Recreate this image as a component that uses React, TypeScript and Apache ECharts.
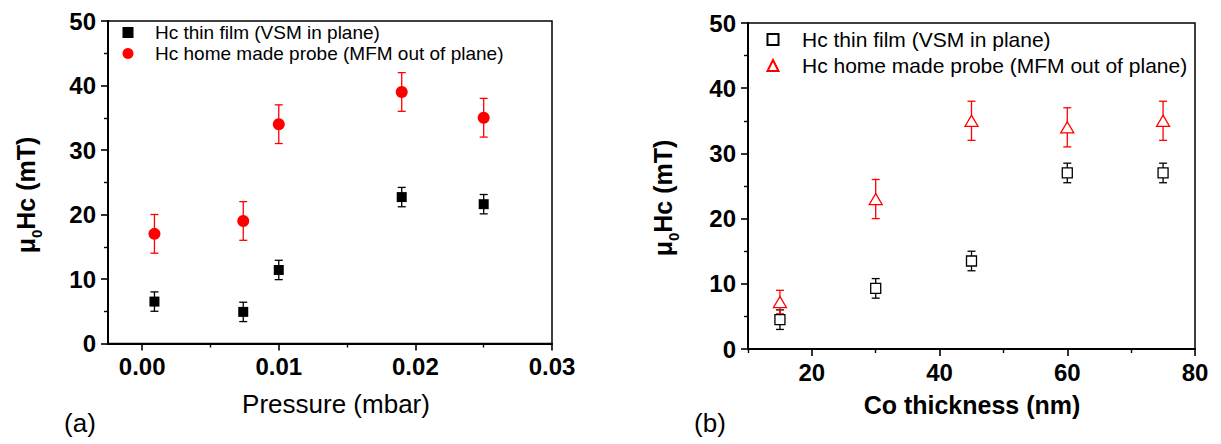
import React, { useEffect, useRef } from 'react';
import * as echarts from 'echarts';

// Panel (a): coercive field vs pressure
const pressure = [0.0009, 0.0074, 0.01, 0.019, 0.025];
const hcFilmA = [6.5, 4.9, 11.4, 22.7, 21.6];
const errFilmA = [1.5, 1.5, 1.5, 1.5, 1.5];
const hcProbeA = [17, 19, 34, 39, 35];
const errProbeA = [3, 3, 3, 3, 3];

// Panel (b): coercive field vs Co thickness
const thickness = [15, 30, 45, 60, 75];
const hcFilmB = [4.5, 9.3, 13.5, 27, 27];
const errFilmB = [1.5, 1.5, 1.5, 1.5, 1.5];
const hcProbeB = [7.2, 23, 35, 34, 35];
const errProbeB = [1.8, 3, 3, 3, 3];

// Tick values
const xTicksA = [0, 0.01, 0.02, 0.03];
const xMinorA = [0.005, 0.015, 0.025];
const xTicksB = [20, 40, 60, 80];
const xMinorB = [10, 30, 50, 70];

const filmName = 'Hc thin film (VSM in plane)';
const probeName = 'Hc home made probe (MFM out of plane)';

const FONT = '"Liberation Sans", Arial, sans-serif';

function errorSeries(name: string, xs: number[], ys: number[], errs: number[], color: string, xAxisIndex: number, yAxisIndex: number) {
  return {
    type: 'custom',
    name,
    xAxisIndex,
    yAxisIndex,
    z: 1,
    silent: true,
    data: xs.map((x, i) => [x, ys[i] - errs[i], ys[i] + errs[i]]),
    encode: { x: 0, y: [1, 2] },
    renderItem: (params: any, api: any) => {
      const x = api.value(0);
      const lo = api.coord([x, api.value(1)]);
      const hi = api.coord([x, api.value(2)]);
      const w = 4;
      const st = { stroke: color, lineWidth: 1.3, fill: 'none' };
      return {
        type: 'group',
        children: [
          { type: 'line', shape: { x1: lo[0], y1: lo[1], x2: hi[0], y2: hi[1] }, style: st },
          { type: 'line', shape: { x1: lo[0] - w, y1: lo[1], x2: lo[0] + w, y2: lo[1] }, style: st },
          { type: 'line', shape: { x1: hi[0] - w, y1: hi[1], x2: hi[0] + w, y2: hi[1] }, style: st },
        ],
      };
    },
  };
}

function mainX(gridIndex: number, min: number, max: number, ticks: number[], fmt: (v: number) => string) {
  return {
    type: 'value',
    gridIndex,
    min,
    max,
    position: 'bottom',
    axisLine: { show: true, onZero: false, lineStyle: { color: '#000', width: 2 } },
    axisTick: { show: true, length: 7, customValues: ticks, lineStyle: { color: '#000', width: 1.6 } },
    axisLabel: {
      show: true,
      customValues: ticks,
      margin: 11,
      formatter: fmt,
      fontFamily: FONT,
      fontWeight: 'bold',
      fontSize: 24,
      color: '#000',
    },
    splitLine: { show: false },
  };
}

function minorX(gridIndex: number, min: number, max: number, ticks: number[]) {
  return {
    type: 'value',
    gridIndex,
    min,
    max,
    position: 'bottom',
    axisLine: { show: false, onZero: false },
    axisTick: { show: true, length: 4, customValues: ticks, lineStyle: { color: '#000', width: 1.4 } },
    axisLabel: { show: false },
    splitLine: { show: false },
  };
}

function mainY(gridIndex: number) {
  return {
    type: 'value',
    gridIndex,
    min: 0,
    max: 50,
    interval: 10,
    axisLine: { show: true, onZero: false, lineStyle: { color: '#000', width: 2 } },
    axisTick: { show: true, length: 7, lineStyle: { color: '#000', width: 1.6 } },
    minorTick: { show: true, splitNumber: 2, length: 4, lineStyle: { color: '#000', width: 1.4 } },
    axisLabel: { margin: 12, fontFamily: FONT, fontWeight: 'bold', fontSize: 24, color: '#000' },
    splitLine: { show: false },
  };
}

function yTitle(x: number, y: number) {
  return {
    type: 'text',
    x,
    y,
    rotation: Math.PI / 2,
    style: {
      text: '{m|μ}{s|0}{m|Hc (mT)}',
      align: 'center',
      verticalAlign: 'middle',
      fill: '#000',
      rich: {
        m: { fontFamily: FONT, fontWeight: 'bold', fontSize: 25, lineHeight: 36, fill: '#000' },
        s: { fontFamily: FONT, fontWeight: 'bold', fontSize: 15, lineHeight: 9, verticalAlign: 'bottom', fill: '#000' },
      },
    },
  };
}

function plainText(text: string, x: number, y: number, size: number, weight: string) {
  return {
    type: 'text',
    x,
    y,
    style: { text, fontFamily: FONT, fontSize: size, fontWeight: weight, fill: '#000', align: 'center', verticalAlign: 'middle' },
  };
}

export default function App() {
  const ref = useRef<HTMLDivElement>(null);

  useEffect(() => {
    if (!ref.current) return;
    const chart = echarts.init(ref.current, undefined, { renderer: 'svg' });
    const option: any = {
      animation: false,
      backgroundColor: '#fff',
      grid: [
        { left: 108, top: 21, width: 444, height: 322.5, show: true, borderColor: '#000', borderWidth: 1.5, backgroundColor: 'transparent', outerBoundsMode: 'none', containLabel: false },
        { left: 748, top: 23, width: 447, height: 326, show: true, borderColor: '#000', borderWidth: 1.5, backgroundColor: 'transparent', outerBoundsMode: 'none', containLabel: false },
      ],
      xAxis: [
        mainX(0, -0.0025, 0.03, xTicksA, (v: number) => v.toFixed(2)),
        minorX(0, -0.0025, 0.03, xMinorA),
        mainX(1, 10, 80, xTicksB, (v: number) => String(v)),
        minorX(1, 10, 80, xMinorB),
      ],
      yAxis: [mainY(0), mainY(1)],
      legend: [
        {
          orient: 'vertical',
          left: 122.5,
          top: 23,
          padding: 0,
          itemWidth: 11,
          itemHeight: 11,
          itemGap: 2,
          selectedMode: false,
          data: ['A|' + filmName, 'A|' + probeName],
          formatter: (n: string) => '{p|}' + n.slice(2),
          textStyle: { fontFamily: FONT, fontSize: 19, color: '#000', rich: { p: { width: 16.5 } } },
        },
        {
          orient: 'vertical',
          left: 766.5,
          top: 29,
          padding: 0,
          itemWidth: 11,
          itemHeight: 11,
          itemGap: 5,
          selectedMode: false,
          data: ['B|' + filmName, 'B|' + probeName],
          formatter: (n: string) => '{p|}' + n.slice(2),
          textStyle: { fontFamily: FONT, fontSize: 21, color: '#000', rich: { p: { width: 18.5 } } },
        },
      ],
      graphic: [
        yTitle(26, 195),
        yTitle(663, 198),
        plainText('Pressure (mbar)', 336, 404, 26, 'normal'),
        plainText('Co thickness (nm)', 972, 405, 25, 'bold'),
        plainText('(a)', 80, 423, 26, 'normal'),
        plainText('(b)', 710, 423, 26, 'normal'),
      ],
      series: [
        errorSeries('errFilmA', pressure, hcFilmA, errFilmA, '#000', 0, 0),
        errorSeries('errProbeA', pressure, hcProbeA, errProbeA, '#ff0000', 0, 0),
        {
          type: 'scatter',
          name: 'A|' + filmName,
          xAxisIndex: 0,
          yAxisIndex: 0,
          z: 3,
          symbol: 'rect',
          symbolSize: 10,
          itemStyle: { color: '#000', opacity: 1 },
          data: pressure.map((x, i) => [x, hcFilmA[i]]),
        },
        {
          type: 'scatter',
          name: 'A|' + probeName,
          xAxisIndex: 0,
          yAxisIndex: 0,
          z: 3,
          symbol: 'circle',
          symbolSize: 12,
          itemStyle: { color: '#ff0000', opacity: 1 },
          data: pressure.map((x, i) => [x, hcProbeA[i]]),
        },
        errorSeries('errFilmB', thickness, hcFilmB, errFilmB, '#000', 2, 1),
        errorSeries('errProbeB', thickness, hcProbeB, errProbeB, '#ff0000', 2, 1),
        {
          type: 'scatter',
          name: 'B|' + filmName,
          xAxisIndex: 2,
          yAxisIndex: 1,
          z: 3,
          symbol: 'rect',
          symbolSize: 10,
          itemStyle: { color: '#fff', borderColor: '#000', borderWidth: 1.3, opacity: 1 },
          data: thickness.map((x, i) => [x, hcFilmB[i]]),
        },
        {
          type: 'scatter',
          name: 'B|' + probeName,
          xAxisIndex: 2,
          yAxisIndex: 1,
          z: 3,
          symbol: 'triangle',
          symbolSize: [13, 11],
          itemStyle: { color: '#fff', borderColor: '#ff0000', borderWidth: 1.3, opacity: 1 },
          data: thickness.map((x, i) => [x, hcProbeB[i]]),
        },
      ],
    };
    chart.setOption(option);
    return () => chart.dispose();
  }, []);

  return <div ref={ref} style={{ position: 'fixed', left: 0, top: 0, width: 1221, height: 444 }} />;
}
